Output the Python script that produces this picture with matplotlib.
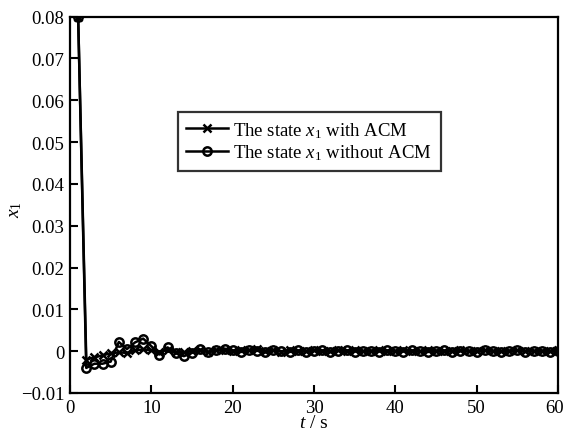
import numpy as np
import matplotlib
matplotlib.use('Agg')
import matplotlib.pyplot as plt
import matplotlib.transforms as mtransforms

plt.rcParams['font.family'] = ['Liberation Serif', 'DejaVu Serif']
plt.rcParams['mathtext.fontset'] = 'custom'
plt.rcParams['mathtext.rm'] = 'Liberation Serif'
plt.rcParams['mathtext.it'] = 'Liberation Serif:italic'

# time samples (s)
t = np.arange(1, 61)

# state x1 with ACM
x_acm = [0.08, -0.002, -0.0015, -0.001, -0.0005, -0.0003, -0.0004, 0.0002, 0.0004, 0.0002,
         -0.0002, 0.0003, -0.0002, -0.0003, 0.0001, 0.0002, -0.0001, 0.0003, 0.0002, 0.0001,
         0.0003, 0.0002, 0.0004, 0.0001, 0.0003, -0.0001, 0.0002, 0.0001, 0.0, 0.0002,
         0.0001, 0.0, 0.0002, 0.0001, 0.0002, 0.0, 0.0001, 0.0002, 0.0, 0.0001,
         0.0002, 0.0001, 0.0, 0.0002, 0.0001, 0.0, 0.0001, 0.0002, 0.0, 0.0001,
         0.0002, 0.0001, 0.0, 0.0001, 0.0002, 0.0, 0.0001, 0.0001, 0.0, 0.0002]

# state x1 without ACM
x_no = [0.08, -0.004, -0.003, -0.003, -0.0025, 0.0022, 0.0005, 0.0021, 0.003, 0.0012,
        -0.0008, 0.0009, -0.0005, -0.0012, -0.0004, 0.0004, -0.0003, 0.0003, 0.0006, 0.0002,
        -0.0002, 0.0003, 0.0001, -0.0003, 0.0002, 0.0, -0.0002, 0.0002, -0.0001, 0.0001,
        0.0002, -0.0002, 0.0001, 0.0002, -0.0001, 0.0, 0.0001, -0.0001, 0.0002, 0.0,
        -0.0001, 0.0002, 0.0, -0.0002, 0.0001, 0.0002, -0.0001, 0.0, 0.0001, -0.0001,
        0.0002, 0.0, -0.0001, 0.0001, 0.0002, -0.0001, 0.0, 0.0001, -0.0001, 0.0001]

yticks = np.arange(-0.01, 0.081, 0.01)
ytick_labels = ['\u22120.01', '0', '0.01', '0.02', '0.03', '0.04', '0.05', '0.06', '0.07', '0.08']
xticks = [0, 10, 20, 30, 40, 50, 60]

fig = plt.figure(figsize=(5.65, 4.39), dpi=100)
ax = fig.add_axes([70 / 565, 1 - 394 / 439, 488 / 565, 376.5 / 439])

ax.plot(t, x_acm, color='black', lw=1.8, marker='x', ms=6, mew=1.8,
        label=r'The state $x_{\rm 1}$ with ACM')
ax.plot(t, x_no, color='black', lw=1.8, marker='o', ms=6, mew=1.8, mfc='none',
        label=r'The state $x_{\rm 1}$ without ACM')

ax.set_xlim(0, 60)
ax.set_ylim(-0.01, 0.08)
ax.set_xticks(xticks)
ax.set_yticks(yticks)
ax.set_yticklabels(ytick_labels)
ax.tick_params(direction='in', length=6, width=1.5, labelsize=13.5, top=False, right=False, pad=4)
for s in ax.spines.values():
    s.set_linewidth(1.6)

# keep the last x tick label inside the figure
lab = ax.get_xticklabels()[-1]
lab.set_transform(lab.get_transform() + mtransforms.ScaledTranslation(-3 / 100, 0, fig.dpi_scale_trans))

ax.set_xlabel(r'$t$ / s', fontsize=14, labelpad=-1)
ax.set_ylabel(r'$x_{\rm 1}$', fontsize=14)
ax.yaxis.set_label_coords(-0.094, 0.49)

leg = ax.legend(loc='upper left', bbox_to_anchor=(108 / 488, 1 - 95 / 376.5), fontsize=13.5,
                frameon=True, fancybox=False, edgecolor='black', handlelength=2.2,
                borderpad=0.45, labelspacing=0.15, handletextpad=0.3, borderaxespad=0)
leg.get_frame().set_linewidth(1.6)

fig.savefig('out.png', dpi=100)
